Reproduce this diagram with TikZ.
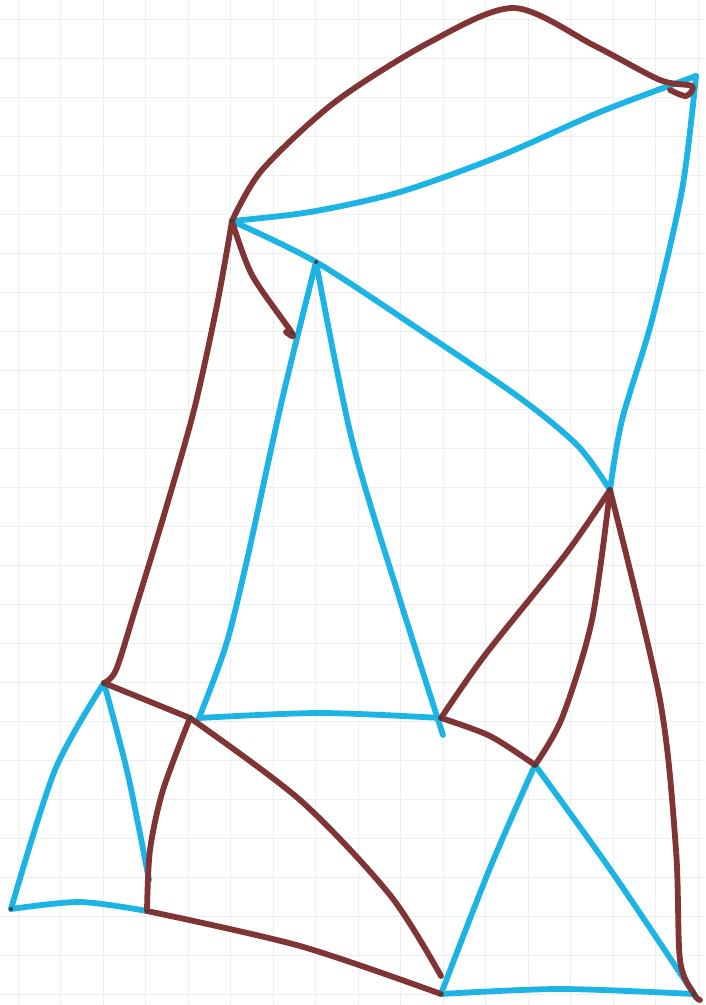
\documentclass[tikz,border=0pt]{standalone}
\definecolor{brn}{RGB}{128,52,52}
\definecolor{cyn}{RGB}{28,180,228}
\definecolor{gridc}{RGB}{238,238,241}
\tikzset{
  bedge/.style={draw=brn, line width=5.8pt, line cap=round, line join=round},
  cedge/.style={draw=cyn, line width=5.8pt, line cap=round, line join=round},
  vdot/.style={fill=black!75, circle, inner sep=0pt, minimum size=4pt}
}
\begin{document}
\begin{tikzpicture}[x=1pt,y=-1pt]
\useasboundingbox (0,0) rectangle (705,1005);
\fill[white] (0,0) rectangle (705,1005);
% grid paper
\foreach \i in {0,...,16} \draw[gridc, line width=1pt] ({18+42.5*\i},0) -- ({18+42.5*\i},1005);
\foreach \j in {0,...,25} \draw[gridc, line width=1pt] (0,{19+39*\j}) -- (705,{19+39*\j});
% vertices
\coordinate (A) at (232,221);
\coordinate (B) at (696,76);
\coordinate (C) at (316,262);
\coordinate (D) at (292,333);
\coordinate (E) at (610,490);
\coordinate (F) at (104,683);
\coordinate (G) at (190,718);
\coordinate (H) at (199,718);
\coordinate (I) at (441,718);
\coordinate (J) at (535,765);
\coordinate (K) at (147,911);
\coordinate (L) at (11,909);
\coordinate (M) at (441,994);
\coordinate (N) at (694,994);
\coordinate (Cend) at (443,735);
\coordinate (Gend) at (441,976);
% blue edges
\draw[cedge] plot[smooth] coordinates {(A) (310,212) (400,192) (500,156) (600,112) (B)};
\draw[cedge] plot[smooth] coordinates {(B) (682,190) (652,320) (622,420) (E)};
\draw[cedge] plot[smooth] coordinates {(A) (C) (420,330) (520,398) (578,446) (E)};
\draw[cedge] plot[smooth] coordinates {(C) (282,400) (247,560) (226,645) (H)};
\draw[cedge] plot[smooth] coordinates {(H) (320,713) (I)};
\draw[cedge] plot[smooth] coordinates {(C) (352,440) (400,600) (Cend)};
\draw[cedge] plot[smooth] coordinates {(F) (55,770) (L)};
\draw[cedge] plot[smooth] coordinates {(F) (128,775) (149,880)};
\draw[cedge] plot[smooth] coordinates {(L) (80,902) (K)};
\draw[cedge] plot[smooth] coordinates {(J) (490,868) (M)};
\draw[cedge] plot[smooth] coordinates {(J) (612,872) (N)};
\draw[cedge] plot[smooth] coordinates {(M) (560,989) (N)};
% brown edges
\draw[bedge] plot[smooth] coordinates {(A) (262,170) (335,102) (430,42) (514,8) (595,46) (660,80) (692,86) (686,96) (670,90)};
\draw[bedge] plot[smooth] coordinates {(A) (252,275) (D) (286,332)};
\draw[bedge] plot[smooth] coordinates {(A) (217,305) (194,410) (164,515) (135,610) (116,670) (F)};
\draw[bedge] plot[smooth] coordinates {(F) (G)};
\draw[bedge] plot[smooth] coordinates {(G) (300,800) (390,895) (Gend)};
\draw[bedge] plot[smooth] coordinates {(G) (163,790) (150,850) (K)};
\draw[bedge] plot[smooth] coordinates {(K) (300,946) (M)};
\draw[bedge] plot[smooth] coordinates {(I) (485,655) (565,555) (E)};
\draw[bedge] plot[smooth] coordinates {(I) (490,736) (J)};
\draw[bedge] plot[smooth] coordinates {(E) (592,620) (562,718) (J)};
\draw[bedge] plot[smooth] coordinates {(E) (660,700) (676,850) (680,960) (N) (700,1000)};
% vertex dots
\foreach \v in {A,C,D,E,F,G,I,J,K,L,M,N} \node[vdot] at (\v) {};
\end{tikzpicture}
\end{document}
